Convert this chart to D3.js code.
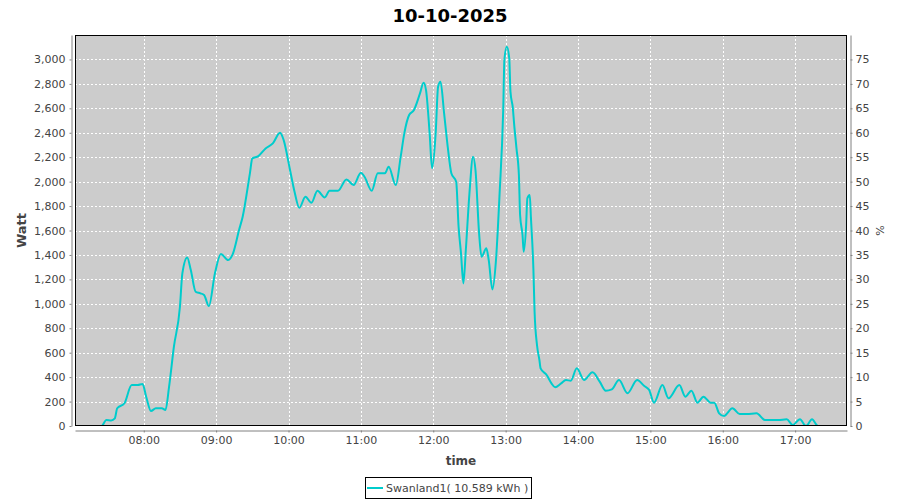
<!DOCTYPE html>
<html>
  <head>
    <meta charset="utf-8">
    <script src="https://d3js.org/d3.v7.min.js"></script>
    <style>
        body { margin: 0; background: #ffffff; }
        text { font-family: "DejaVu Sans", sans-serif; }
        .tick text { fill: #444444; font-size: 11px; }
    </style>
  </head>
  <body>
    <div id="chartcontainer"></div>
    <script type="text/javascript">

      // readings of the day (time of day, power in watt)
      var times = ["07:14","07:25","07:29","07:33","07:36","07:38","07:44","07:50","07:55","07:59",
        "08:02","08:06","08:10","08:15","08:18","08:21","08:25","08:30","08:32","08:36","08:39","08:43","08:47","08:50","08:54","08:59",
        "09:04","09:10","09:14","09:19","09:22","09:28","09:30","09:35","09:41","09:47","09:53","09:56",
        "10:01","10:05","10:09","10:14","10:19","10:24","10:30","10:34","10:41","10:48","10:54",
        "11:00","11:03","11:09","11:14","11:20","11:23","11:29","11:33","11:36","11:40","11:44","11:49","11:52","11:54","11:57","11:59",
        "12:02","12:04","12:06","12:09","12:12","12:15","12:19","12:21","12:23","12:25","12:27","12:30","12:33","12:35","12:38","12:40",
        "12:44","12:46","12:49","12:52","12:55","12:58","12:59",
        "13:01","13:03","13:04","13:06","13:07","13:09","13:11","13:12","13:14","13:15","13:17","13:18","13:20","13:21","13:23","13:24",
        "13:26","13:28","13:29","13:34","13:38","13:41","13:46","13:50","13:54","13:59",
        "14:05","14:12","14:18","14:23","14:28","14:34","14:41","14:49","14:55","14:59",
        "15:03","15:10","15:15","15:24","15:29","15:34","15:39","15:44","15:50","15:53","15:57",
        "16:01","16:08","16:14","16:20","16:28","16:35","16:46","16:53","16:58",
        "17:04","17:09","17:14","17:19","17:23","17:30"];
      var watts = [0,0,49,46,63,145,186,335,335,344,
        240,123,145,145,131,322,649,976,1249,1380,1276,1099,1086,1072,982,1249,
        1407,1358,1413,1604,1713,2068,2190,2209,2272,2313,2400,2340,
        2108,1917,1786,1876,1827,1925,1871,1925,1925,2018,1972,
        2073,2040,1925,2068,2068,2122,1972,2204,2395,2545,2586,2722,2809,2749,2395,2110,
        2395,2776,2817,2559,2285,2068,1999,1631,1413,1167,1440,1904,2204,2095,1577,1385,
        1454,1358,1118,1358,1904,2586,3000,
        3104,3009,2736,2600,2477,2272,2054,1726,1563,1426,1645,1863,1890,1699,1290,935,
        663,540,472,417,349,317,349,376,371,472,
        376,439,363,289,300,376,268,376,327,295,
        191,335,227,335,240,289,191,240,191,191,104,
        82,145,98,98,104,49,49,55,8,
        55,0,55,0,0,0];
      var hourTicks = ["08:00","09:00","10:00","11:00","12:00","13:00","14:00","15:00","16:00","17:00"];
      var wattTicks = d3.range(0, 3001, 200);
      var pctTicks = d3.range(0, 76, 5);
      var seriesName = "Swanland1( 10.589 kWh )";
      var title = "10-10-2025";

      var width = 900, height = 500;
      var plot = {left: 75, top: 35, right: 847, bottom: 426};
      var lineColor = "#00cccc";
      var parse = d3.timeParse("%H:%M");

      var svg = d3.select("#chartcontainer").append("svg")
          .attr("width", width).attr("height", height);

      var x = d3.scaleTime()
          .domain([parse("07:03"), parse("17:43")])
          .range([plot.left, plot.right]);
      var y = d3.scaleLinear().domain([0, 3200]).range([plot.bottom, plot.top]);
      var y2 = d3.scaleLinear().domain([0, 80]).range([plot.bottom, plot.top]);

      // plot background
      svg.append("rect")
          .attr("x", plot.left).attr("y", plot.top)
          .attr("width", plot.right - plot.left).attr("height", plot.bottom - plot.top)
          .attr("fill", "#cccccc");

      // grid lines
      var grid = svg.append("g").attr("stroke", "#ffffff").attr("stroke-dasharray", "2,2");
      grid.selectAll(".gy").data(wattTicks.slice(1)).enter().append("line")
          .attr("x1", plot.left).attr("x2", plot.right)
          .attr("y1", function(d) { return Math.round(y(d)) + 0.5; })
          .attr("y2", function(d) { return Math.round(y(d)) + 0.5; });
      grid.selectAll(".gx").data(hourTicks).enter().append("line")
          .attr("y1", plot.top).attr("y2", plot.bottom)
          .attr("x1", function(d) { return Math.round(x(parse(d))) + 0.5; })
          .attr("x2", function(d) { return Math.round(x(parse(d))) + 0.5; });

      // series line
      svg.append("clipPath").attr("id", "clip").append("rect")
          .attr("x", plot.left).attr("y", plot.top)
          .attr("width", plot.right - plot.left).attr("height", plot.bottom - plot.top);
      var line = d3.line()
          .x(function(d, i) { return x(parse(times[i])); })
          .y(function(d) { return y(d); })
          .curve(d3.curveMonotoneX);
      svg.append("path")
          .attr("clip-path", "url(#clip)")
          .attr("d", line(watts))
          .attr("fill", "none")
          .attr("stroke", lineColor)
          .attr("stroke-width", 2);

      // plot outline
      svg.append("rect")
          .attr("x", plot.left + 0.5).attr("y", plot.top + 0.5)
          .attr("width", plot.right - plot.left - 1).attr("height", plot.bottom - plot.top - 1)
          .attr("fill", "none").attr("stroke", "#000000");

      // axes
      function styleAxis(g) {
        g.select(".domain").attr("stroke", "#808080");
        g.selectAll(".tick line").attr("stroke", "#808080");
      }
      svg.append("g")
          .attr("transform", "translate(" + (plot.left - 3.5) + ",0)")
          .call(d3.axisLeft(y).tickValues(wattTicks).tickFormat(d3.format(",")).tickSize(2).tickSizeOuter(0).tickPadding(4))
          .call(styleAxis);
      svg.append("g")
          .attr("transform", "translate(" + (plot.right + 3.5) + ",0)")
          .call(d3.axisRight(y2).tickValues(pctTicks).tickSize(2).tickSizeOuter(0).tickPadding(3))
          .call(styleAxis);
      svg.append("g")
          .attr("transform", "translate(0," + (plot.bottom + 4.5) + ")")
          .call(d3.axisBottom(x).tickValues(hourTicks.map(parse)).tickFormat(d3.timeFormat("%H:%M")).tickSize(2).tickSizeOuter(0).tickPadding(4))
          .call(styleAxis);

      // title and axis labels
      svg.append("text")
          .attr("x", width / 2).attr("y", 22)
          .attr("text-anchor", "middle")
          .style("font-size", "18px").style("font-weight", "bold")
          .text(title);
      svg.append("text")
          .attr("transform", "translate(26," + ((plot.top + plot.bottom) / 2) + ") rotate(-90)")
          .attr("text-anchor", "middle")
          .style("font-size", "13px").style("font-weight", "bold").style("fill", "#444444")
          .text("Watt");
      svg.append("text")
          .attr("transform", "translate(884," + ((plot.top + plot.bottom) / 2) + ") rotate(-90)")
          .attr("text-anchor", "middle")
          .style("font-size", "11px").style("fill", "#444444")
          .text("%");
      svg.append("text")
          .attr("x", (plot.left + plot.right) / 2).attr("y", 465)
          .attr("text-anchor", "middle")
          .style("font-size", "12px").style("font-weight", "bold").style("fill", "#444444")
          .text("time");

      // legend
      var legend = svg.append("g");
      legend.append("rect")
          .attr("x", 365.5).attr("y", 477.5).attr("width", 166).attr("height", 21)
          .attr("fill", "#ffffff").attr("stroke", "#000000");
      legend.append("line")
          .attr("x1", 367).attr("x2", 383).attr("y1", 488).attr("y2", 488)
          .attr("stroke", lineColor).attr("stroke-width", 2);
      legend.append("text")
          .attr("x", 386).attr("y", 492)
          .style("font-size", "11px").style("fill", "#444444")
          .text(seriesName);
    </script>
  </body>
</html>
